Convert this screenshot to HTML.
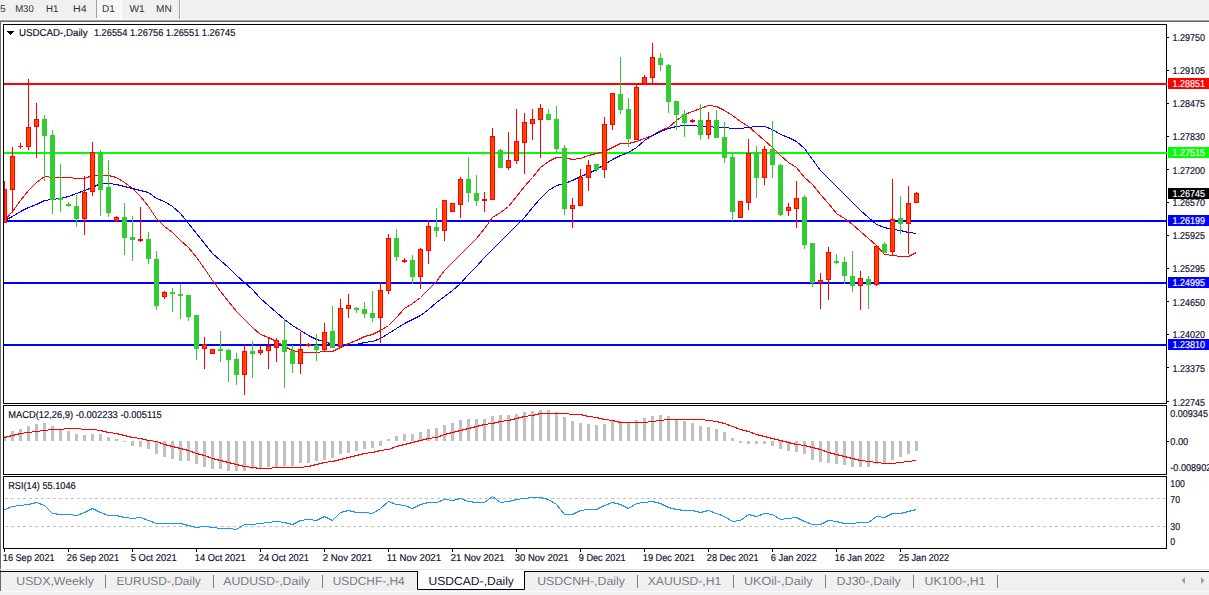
<!DOCTYPE html>
<html><head><meta charset="utf-8"><style>
html,body{margin:0;padding:0;background:#fff;width:1209px;height:595px;overflow:hidden}
svg{display:block;font-family:"Liberation Sans", sans-serif;text-rendering:geometricPrecision}
</style></head><body>
<svg width="1209" height="595" viewBox="0 0 1209 595">
<rect x="0" y="0" width="1209" height="20" fill="#f0f0f0"/>
<defs><pattern id="chk" x="0" y="0" width="2" height="2" patternUnits="userSpaceOnUse"><rect width="2" height="2" fill="#f0f0f0"/><rect width="1" height="1" fill="#ffffff"/><rect x="1" y="1" width="1" height="1" fill="#ffffff"/></pattern></defs>
<rect x="97" y="0" width="24" height="18" fill="url(#chk)" shape-rendering="crispEdges"/>
<rect x="121" y="0" width="1" height="19" fill="#ffffff"/>
<rect x="97" y="18" width="25" height="1" fill="#ffffff"/>
<rect x="96" y="0" width="1" height="18" fill="#a0a0a0"/>
<rect x="179" y="0" width="1" height="19" fill="#a0a0a0"/>
<rect x="180" y="0" width="1" height="19" fill="#ffffff"/>
<rect x="0" y="19" width="1209" height="1" fill="#f9f9f9"/>
<rect x="0" y="20" width="1209" height="1" fill="#a0a0a0"/>
<rect x="0" y="21" width="1209" height="1" fill="#696969"/>
<text x="0.09999999999999998" y="12.4" font-size="9.8" fill="#333333" textLength="5.6" lengthAdjust="spacingAndGlyphs">5</text>
<text x="15.200000000000001" y="12.4" font-size="9.8" fill="#333333" textLength="18.5" lengthAdjust="spacingAndGlyphs">M30</text>
<text x="46.1" y="12.4" font-size="9.8" fill="#333333" textLength="12.4" lengthAdjust="spacingAndGlyphs">H1</text>
<text x="73.10000000000001" y="12.4" font-size="9.8" fill="#333333" textLength="13.600000000000001" lengthAdjust="spacingAndGlyphs">H4</text>
<text x="102.0" y="12.4" font-size="9.8" fill="#333333" textLength="12.9" lengthAdjust="spacingAndGlyphs">D1</text>
<text x="129.4" y="12.4" font-size="9.8" fill="#333333" textLength="15.3" lengthAdjust="spacingAndGlyphs">W1</text>
<text x="156.0" y="12.4" font-size="9.8" fill="#333333" textLength="15.700000000000001" lengthAdjust="spacingAndGlyphs">MN</text>
<rect x="0" y="21" width="1" height="551" fill="#707070"/>
<rect x="3.5" y="24.5" width="1163" height="379" fill="none" stroke="#000" stroke-width="1"/>
<rect x="3.5" y="405.5" width="1163" height="69" fill="none" stroke="#000" stroke-width="1"/>
<rect x="3.5" y="476.5" width="1163" height="72" fill="none" stroke="#000" stroke-width="1"/>
<g shape-rendering="crispEdges">
<rect x="4" y="83" width="1163" height="2" fill="#ff0000"/>
<rect x="4" y="152" width="1163" height="2" fill="#00ff00"/>
<rect x="4" y="220" width="1163" height="2" fill="#0000ff"/>
<rect x="4" y="282" width="1163" height="2" fill="#0000ff"/>
<rect x="4" y="344" width="1163" height="2" fill="#0000ff"/>
</g>
<polyline points="4.5,220.5 12.5,211.5 20.5,200.5 28.5,190.5 36.5,182.5 44.5,176.5 52.5,177.5 60.5,177.5 68.5,177.5 76.5,178.5 84.5,178.5 92.5,175.5 100.5,175.5 108.5,175.5 116.5,177.5 124.5,182.5 132.5,188.5 140.5,196.5 148.5,206.5 156.5,218.5 164.5,226.5 172.5,232.5 180.5,240.5 188.5,247.5 196.5,257.5 204.5,268.5 212.5,280.5 220.5,291.5 228.5,301.5 236.5,311.5 244.5,319.5 252.5,327.5 260.5,334.5 268.5,337.5 276.5,341.5 284.5,346.5 292.5,350.5 300.5,352.5 308.5,352.5 316.5,352.5 324.5,351.5 332.5,351.5 340.5,347.5 348.5,343.5 356.5,340.5 364.5,336.5 372.5,334.5 380.5,330.5 388.5,325.5 396.5,317.5 404.5,308.5 412.5,303.5 420.5,297.5 428.5,289.5 436.5,281.5 444.5,270.5 452.5,262.5 460.5,254.5 468.5,246.5 476.5,238.5 484.5,228.5 492.5,217.5 500.5,212.5 508.5,206.5 516.5,196.5 524.5,186.5 532.5,177.5 540.5,167.5 548.5,161.5 556.5,157.5 564.5,157.5 572.5,159.5 580.5,158.5 588.5,155.5 596.5,153.5 604.5,151.5 612.5,147.5 620.5,143.5 628.5,143.5 636.5,141.5 644.5,138.5 652.5,135.5 660.5,130.5 668.5,127.5 676.5,120.5 684.5,114.5 692.5,111.5 700.5,108.5 708.5,105.5 716.5,106.5 724.5,110.5 732.5,115.5 740.5,121.5 748.5,126.5 756.5,133.5 764.5,140.5 772.5,147.5 780.5,155.5 788.5,162.5 796.5,167.5 804.5,177.5 812.5,184.5 820.5,194.5 828.5,203.5 836.5,213.5 844.5,218.5 852.5,224.5 860.5,231.5 868.5,238.5 876.5,245.5 884.5,254.5 892.5,255.5 900.5,256.5 908.5,256.5 916.5,252.5" fill="none" stroke="#ff0000" stroke-width="1" shape-rendering="crispEdges"/>
<polyline points="4.5,220.5 12.5,216.5 20.5,211.5 28.5,207.5 36.5,204.5 44.5,200.5 52.5,199.5 60.5,198.5 68.5,196.5 76.5,193.5 84.5,190.5 92.5,187.5 100.5,183.5 108.5,183.5 116.5,184.5 124.5,186.5 132.5,188.5 140.5,190.5 148.5,192.5 156.5,198.5 164.5,201.5 172.5,206.5 180.5,213.5 188.5,223.5 196.5,233.5 204.5,243.5 212.5,253.5 220.5,260.5 228.5,267.5 236.5,275.5 244.5,282.5 252.5,289.5 260.5,298.5 268.5,305.5 276.5,312.5 284.5,319.5 292.5,325.5 300.5,330.5 308.5,335.5 316.5,339.5 324.5,341.5 332.5,344.5 340.5,345.5 348.5,345.5 356.5,344.5 364.5,342.5 372.5,341.5 380.5,338.5 388.5,333.5 396.5,328.5 404.5,323.5 412.5,319.5 420.5,315.5 428.5,309.5 436.5,302.5 444.5,296.5 452.5,290.5 460.5,283.5 468.5,274.5 476.5,266.5 484.5,257.5 492.5,249.5 500.5,241.5 508.5,233.5 516.5,225.5 524.5,217.5 532.5,207.5 540.5,198.5 548.5,190.5 556.5,185.5 564.5,183.5 572.5,180.5 580.5,176.5 588.5,173.5 596.5,169.5 604.5,164.5 612.5,159.5 620.5,155.5 628.5,152.5 636.5,147.5 644.5,140.5 652.5,135.5 660.5,131.5 668.5,128.5 676.5,126.5 684.5,125.5 692.5,125.5 700.5,126.5 708.5,126.5 716.5,127.5 724.5,127.5 732.5,128.5 740.5,128.5 748.5,127.5 756.5,126.5 764.5,126.5 772.5,129.5 780.5,134.5 788.5,137.5 796.5,141.5 804.5,148.5 812.5,159.5 820.5,170.5 828.5,178.5 836.5,186.5 844.5,194.5 852.5,202.5 860.5,210.5 868.5,217.5 876.5,224.5 884.5,227.5 892.5,229.5 900.5,230.5 908.5,232.5 916.5,233.5" fill="none" stroke="#0000ff" stroke-width="1" shape-rendering="crispEdges"/>
<g shape-rendering="crispEdges">
<rect x="4" y="181" width="1" height="42" fill="#ff0000"/>
<rect x="4" y="189" width="3" height="34" fill="#ff0000"/>
<rect x="5" y="190" width="1" height="32" fill="#ff4500"/>
<rect x="12" y="147" width="1" height="66" fill="#ff0000"/>
<rect x="10" y="156" width="5" height="34" fill="#ff0000"/>
<rect x="11" y="157" width="3" height="32" fill="#ff4500"/>
<rect x="20" y="143" width="1" height="6" fill="#ff0000"/>
<rect x="18" y="146" width="5" height="1" fill="#ff0000"/>
<rect x="28" y="79" width="1" height="71" fill="#ff0000"/>
<rect x="26" y="127" width="5" height="20" fill="#ff0000"/>
<rect x="27" y="128" width="3" height="18" fill="#ff4500"/>
<rect x="36" y="103" width="1" height="55" fill="#ff0000"/>
<rect x="34" y="119" width="5" height="8" fill="#ff0000"/>
<rect x="35" y="120" width="3" height="6" fill="#ff4500"/>
<rect x="44" y="115" width="1" height="66" fill="#32cd32"/>
<rect x="42" y="119" width="5" height="17" fill="#32cd32"/>
<rect x="52" y="130" width="1" height="84" fill="#32cd32"/>
<rect x="50" y="135" width="5" height="65" fill="#32cd32"/>
<rect x="60" y="164" width="1" height="48" fill="#32cd32"/>
<rect x="58" y="198" width="5" height="2" fill="#32cd32"/>
<rect x="68" y="202" width="1" height="5" fill="#32cd32"/>
<rect x="66" y="204" width="5" height="2" fill="#32cd32"/>
<rect x="76" y="195" width="1" height="32" fill="#32cd32"/>
<rect x="74" y="206" width="5" height="13" fill="#32cd32"/>
<rect x="84" y="176" width="1" height="59" fill="#ff0000"/>
<rect x="82" y="192" width="5" height="27" fill="#ff0000"/>
<rect x="83" y="193" width="3" height="25" fill="#ff4500"/>
<rect x="92" y="142" width="1" height="54" fill="#ff0000"/>
<rect x="90" y="152" width="5" height="40" fill="#ff0000"/>
<rect x="91" y="153" width="3" height="38" fill="#ff4500"/>
<rect x="100" y="150" width="1" height="66" fill="#32cd32"/>
<rect x="98" y="152" width="5" height="38" fill="#32cd32"/>
<rect x="108" y="160" width="1" height="57" fill="#32cd32"/>
<rect x="106" y="187" width="5" height="26" fill="#32cd32"/>
<rect x="116" y="216" width="1" height="6" fill="#ff0000"/>
<rect x="114" y="217" width="5" height="4" fill="#ff0000"/>
<rect x="115" y="218" width="3" height="2" fill="#ff4500"/>
<rect x="124" y="203" width="1" height="52" fill="#32cd32"/>
<rect x="122" y="217" width="5" height="21" fill="#32cd32"/>
<rect x="132" y="216" width="1" height="45" fill="#32cd32"/>
<rect x="130" y="237" width="5" height="3" fill="#32cd32"/>
<rect x="140" y="207" width="1" height="35" fill="#ff0000"/>
<rect x="138" y="239" width="5" height="2" fill="#ff0000"/>
<rect x="148" y="232" width="1" height="32" fill="#32cd32"/>
<rect x="146" y="239" width="5" height="20" fill="#32cd32"/>
<rect x="156" y="251" width="1" height="59" fill="#32cd32"/>
<rect x="154" y="259" width="5" height="47" fill="#32cd32"/>
<rect x="164" y="291" width="1" height="8" fill="#ff0000"/>
<rect x="162" y="292" width="5" height="5" fill="#ff0000"/>
<rect x="163" y="293" width="3" height="3" fill="#ff4500"/>
<rect x="172" y="288" width="1" height="24" fill="#32cd32"/>
<rect x="170" y="292" width="5" height="2" fill="#32cd32"/>
<rect x="180" y="284" width="1" height="35" fill="#32cd32"/>
<rect x="178" y="294" width="5" height="2" fill="#32cd32"/>
<rect x="188" y="295" width="1" height="26" fill="#32cd32"/>
<rect x="186" y="295" width="5" height="22" fill="#32cd32"/>
<rect x="196" y="315" width="1" height="45" fill="#32cd32"/>
<rect x="194" y="315" width="5" height="34" fill="#32cd32"/>
<rect x="204" y="337" width="1" height="32" fill="#ff0000"/>
<rect x="202" y="344" width="5" height="5" fill="#ff0000"/>
<rect x="203" y="345" width="3" height="3" fill="#ff4500"/>
<rect x="212" y="349" width="1" height="5" fill="#ff0000"/>
<rect x="210" y="349" width="5" height="5" fill="#ff0000"/>
<rect x="211" y="350" width="3" height="3" fill="#ff4500"/>
<rect x="220" y="331" width="1" height="31" fill="#32cd32"/>
<rect x="218" y="349" width="5" height="2" fill="#32cd32"/>
<rect x="228" y="349" width="1" height="33" fill="#32cd32"/>
<rect x="226" y="350" width="5" height="10" fill="#32cd32"/>
<rect x="236" y="353" width="1" height="32" fill="#32cd32"/>
<rect x="234" y="359" width="5" height="16" fill="#32cd32"/>
<rect x="244" y="345" width="1" height="50" fill="#ff0000"/>
<rect x="242" y="351" width="5" height="24" fill="#ff0000"/>
<rect x="243" y="352" width="3" height="22" fill="#ff4500"/>
<rect x="252" y="341" width="1" height="37" fill="#32cd32"/>
<rect x="250" y="351" width="5" height="3" fill="#32cd32"/>
<rect x="260" y="346" width="1" height="9" fill="#ff0000"/>
<rect x="258" y="350" width="5" height="3" fill="#ff0000"/>
<rect x="259" y="351" width="3" height="1" fill="#ff4500"/>
<rect x="268" y="337" width="1" height="32" fill="#ff0000"/>
<rect x="266" y="346" width="5" height="5" fill="#ff0000"/>
<rect x="267" y="347" width="3" height="3" fill="#ff4500"/>
<rect x="276" y="338" width="1" height="24" fill="#ff0000"/>
<rect x="274" y="340" width="5" height="8" fill="#ff0000"/>
<rect x="275" y="341" width="3" height="6" fill="#ff4500"/>
<rect x="284" y="319" width="1" height="69" fill="#32cd32"/>
<rect x="282" y="340" width="5" height="12" fill="#32cd32"/>
<rect x="292" y="345" width="1" height="28" fill="#32cd32"/>
<rect x="290" y="351" width="5" height="13" fill="#32cd32"/>
<rect x="300" y="332" width="1" height="42" fill="#ff0000"/>
<rect x="298" y="349" width="5" height="15" fill="#ff0000"/>
<rect x="299" y="350" width="3" height="13" fill="#ff4500"/>
<rect x="308" y="343" width="1" height="4" fill="#ff0000"/>
<rect x="306" y="344" width="5" height="2" fill="#ff0000"/>
<rect x="316" y="334" width="1" height="27" fill="#32cd32"/>
<rect x="314" y="345" width="5" height="5" fill="#32cd32"/>
<rect x="324" y="323" width="1" height="28" fill="#ff0000"/>
<rect x="322" y="332" width="5" height="18" fill="#ff0000"/>
<rect x="323" y="333" width="3" height="16" fill="#ff4500"/>
<rect x="332" y="306" width="1" height="42" fill="#32cd32"/>
<rect x="330" y="331" width="5" height="17" fill="#32cd32"/>
<rect x="340" y="299" width="1" height="48" fill="#ff0000"/>
<rect x="338" y="308" width="5" height="39" fill="#ff0000"/>
<rect x="339" y="309" width="3" height="37" fill="#ff4500"/>
<rect x="348" y="294" width="1" height="24" fill="#ff0000"/>
<rect x="346" y="305" width="5" height="4" fill="#ff0000"/>
<rect x="347" y="306" width="3" height="2" fill="#ff4500"/>
<rect x="356" y="307" width="1" height="6" fill="#32cd32"/>
<rect x="354" y="308" width="5" height="2" fill="#32cd32"/>
<rect x="364" y="302" width="1" height="16" fill="#32cd32"/>
<rect x="362" y="309" width="5" height="5" fill="#32cd32"/>
<rect x="372" y="291" width="1" height="31" fill="#32cd32"/>
<rect x="370" y="313" width="5" height="5" fill="#32cd32"/>
<rect x="380" y="282" width="1" height="61" fill="#ff0000"/>
<rect x="378" y="290" width="5" height="28" fill="#ff0000"/>
<rect x="379" y="291" width="3" height="26" fill="#ff4500"/>
<rect x="388" y="234" width="1" height="60" fill="#ff0000"/>
<rect x="386" y="238" width="5" height="53" fill="#ff0000"/>
<rect x="387" y="239" width="3" height="51" fill="#ff4500"/>
<rect x="396" y="229" width="1" height="32" fill="#32cd32"/>
<rect x="394" y="238" width="5" height="19" fill="#32cd32"/>
<rect x="404" y="258" width="1" height="5" fill="#ff0000"/>
<rect x="402" y="260" width="5" height="2" fill="#ff0000"/>
<rect x="412" y="255" width="1" height="29" fill="#32cd32"/>
<rect x="410" y="260" width="5" height="17" fill="#32cd32"/>
<rect x="420" y="248" width="1" height="41" fill="#ff0000"/>
<rect x="418" y="249" width="5" height="28" fill="#ff0000"/>
<rect x="419" y="250" width="3" height="26" fill="#ff4500"/>
<rect x="428" y="220" width="1" height="44" fill="#ff0000"/>
<rect x="426" y="226" width="5" height="25" fill="#ff0000"/>
<rect x="427" y="227" width="3" height="23" fill="#ff4500"/>
<rect x="436" y="208" width="1" height="29" fill="#32cd32"/>
<rect x="434" y="227" width="5" height="4" fill="#32cd32"/>
<rect x="444" y="200" width="1" height="41" fill="#ff0000"/>
<rect x="442" y="200" width="5" height="31" fill="#ff0000"/>
<rect x="443" y="201" width="3" height="29" fill="#ff4500"/>
<rect x="452" y="203" width="1" height="9" fill="#ff0000"/>
<rect x="450" y="203" width="5" height="9" fill="#ff0000"/>
<rect x="451" y="204" width="3" height="7" fill="#ff4500"/>
<rect x="460" y="177" width="1" height="41" fill="#ff0000"/>
<rect x="458" y="179" width="5" height="26" fill="#ff0000"/>
<rect x="459" y="180" width="3" height="24" fill="#ff4500"/>
<rect x="468" y="157" width="1" height="45" fill="#32cd32"/>
<rect x="466" y="179" width="5" height="14" fill="#32cd32"/>
<rect x="476" y="175" width="1" height="31" fill="#32cd32"/>
<rect x="474" y="193" width="5" height="8" fill="#32cd32"/>
<rect x="484" y="192" width="1" height="20" fill="#ff0000"/>
<rect x="482" y="199" width="5" height="2" fill="#ff0000"/>
<rect x="492" y="128" width="1" height="72" fill="#ff0000"/>
<rect x="490" y="136" width="5" height="64" fill="#ff0000"/>
<rect x="491" y="137" width="3" height="62" fill="#ff4500"/>
<rect x="500" y="149" width="1" height="19" fill="#32cd32"/>
<rect x="498" y="150" width="5" height="18" fill="#32cd32"/>
<rect x="508" y="132" width="1" height="38" fill="#ff0000"/>
<rect x="506" y="160" width="5" height="8" fill="#ff0000"/>
<rect x="507" y="161" width="3" height="6" fill="#ff4500"/>
<rect x="516" y="109" width="1" height="55" fill="#ff0000"/>
<rect x="514" y="141" width="5" height="20" fill="#ff0000"/>
<rect x="515" y="142" width="3" height="18" fill="#ff4500"/>
<rect x="524" y="113" width="1" height="61" fill="#ff0000"/>
<rect x="522" y="122" width="5" height="21" fill="#ff0000"/>
<rect x="523" y="123" width="3" height="19" fill="#ff4500"/>
<rect x="532" y="109" width="1" height="31" fill="#ff0000"/>
<rect x="530" y="119" width="5" height="5" fill="#ff0000"/>
<rect x="531" y="120" width="3" height="3" fill="#ff4500"/>
<rect x="540" y="104" width="1" height="54" fill="#ff0000"/>
<rect x="538" y="108" width="5" height="12" fill="#ff0000"/>
<rect x="539" y="109" width="3" height="10" fill="#ff4500"/>
<rect x="548" y="109" width="1" height="11" fill="#32cd32"/>
<rect x="546" y="114" width="5" height="6" fill="#32cd32"/>
<rect x="556" y="106" width="1" height="46" fill="#32cd32"/>
<rect x="554" y="119" width="5" height="30" fill="#32cd32"/>
<rect x="564" y="145" width="1" height="70" fill="#32cd32"/>
<rect x="562" y="148" width="5" height="61" fill="#32cd32"/>
<rect x="572" y="198" width="1" height="30" fill="#ff0000"/>
<rect x="570" y="205" width="5" height="4" fill="#ff0000"/>
<rect x="571" y="206" width="3" height="2" fill="#ff4500"/>
<rect x="580" y="169" width="1" height="37" fill="#ff0000"/>
<rect x="578" y="177" width="5" height="29" fill="#ff0000"/>
<rect x="579" y="178" width="3" height="27" fill="#ff4500"/>
<rect x="588" y="160" width="1" height="31" fill="#ff0000"/>
<rect x="586" y="165" width="5" height="13" fill="#ff0000"/>
<rect x="587" y="166" width="3" height="11" fill="#ff4500"/>
<rect x="596" y="164" width="1" height="8" fill="#32cd32"/>
<rect x="594" y="164" width="5" height="6" fill="#32cd32"/>
<rect x="604" y="117" width="1" height="61" fill="#ff0000"/>
<rect x="602" y="124" width="5" height="46" fill="#ff0000"/>
<rect x="603" y="125" width="3" height="44" fill="#ff4500"/>
<rect x="612" y="93" width="1" height="37" fill="#ff0000"/>
<rect x="610" y="93" width="5" height="32" fill="#ff0000"/>
<rect x="611" y="94" width="3" height="30" fill="#ff4500"/>
<rect x="620" y="57" width="1" height="57" fill="#32cd32"/>
<rect x="618" y="94" width="5" height="16" fill="#32cd32"/>
<rect x="628" y="98" width="1" height="49" fill="#32cd32"/>
<rect x="626" y="109" width="5" height="30" fill="#32cd32"/>
<rect x="636" y="85" width="1" height="55" fill="#ff0000"/>
<rect x="634" y="87" width="5" height="53" fill="#ff0000"/>
<rect x="635" y="88" width="3" height="51" fill="#ff4500"/>
<rect x="644" y="75" width="1" height="9" fill="#ff0000"/>
<rect x="642" y="77" width="5" height="7" fill="#ff0000"/>
<rect x="643" y="78" width="3" height="5" fill="#ff4500"/>
<rect x="652" y="43" width="1" height="40" fill="#ff0000"/>
<rect x="650" y="57" width="5" height="21" fill="#ff0000"/>
<rect x="651" y="58" width="3" height="19" fill="#ff4500"/>
<rect x="660" y="53" width="1" height="18" fill="#32cd32"/>
<rect x="658" y="58" width="5" height="7" fill="#32cd32"/>
<rect x="668" y="64" width="1" height="49" fill="#32cd32"/>
<rect x="666" y="65" width="5" height="37" fill="#32cd32"/>
<rect x="676" y="101" width="1" height="29" fill="#32cd32"/>
<rect x="674" y="101" width="5" height="14" fill="#32cd32"/>
<rect x="684" y="110" width="1" height="27" fill="#32cd32"/>
<rect x="682" y="114" width="5" height="9" fill="#32cd32"/>
<rect x="692" y="119" width="1" height="4" fill="#ff0000"/>
<rect x="690" y="120" width="5" height="2" fill="#ff0000"/>
<rect x="700" y="104" width="1" height="36" fill="#32cd32"/>
<rect x="698" y="120" width="5" height="15" fill="#32cd32"/>
<rect x="708" y="112" width="1" height="27" fill="#ff0000"/>
<rect x="706" y="120" width="5" height="15" fill="#ff0000"/>
<rect x="707" y="121" width="3" height="13" fill="#ff4500"/>
<rect x="716" y="110" width="1" height="28" fill="#32cd32"/>
<rect x="714" y="120" width="5" height="18" fill="#32cd32"/>
<rect x="724" y="122" width="1" height="41" fill="#32cd32"/>
<rect x="722" y="137" width="5" height="21" fill="#32cd32"/>
<rect x="732" y="153" width="1" height="68" fill="#32cd32"/>
<rect x="730" y="157" width="5" height="55" fill="#32cd32"/>
<rect x="740" y="201" width="1" height="17" fill="#ff0000"/>
<rect x="738" y="201" width="5" height="17" fill="#ff0000"/>
<rect x="739" y="202" width="3" height="15" fill="#ff4500"/>
<rect x="748" y="139" width="1" height="71" fill="#ff0000"/>
<rect x="746" y="153" width="5" height="50" fill="#ff0000"/>
<rect x="747" y="154" width="3" height="48" fill="#ff4500"/>
<rect x="756" y="146" width="1" height="52" fill="#32cd32"/>
<rect x="754" y="152" width="5" height="26" fill="#32cd32"/>
<rect x="764" y="146" width="1" height="39" fill="#ff0000"/>
<rect x="762" y="149" width="5" height="29" fill="#ff0000"/>
<rect x="763" y="150" width="3" height="27" fill="#ff4500"/>
<rect x="772" y="121" width="1" height="57" fill="#32cd32"/>
<rect x="770" y="149" width="5" height="16" fill="#32cd32"/>
<rect x="780" y="164" width="1" height="52" fill="#32cd32"/>
<rect x="778" y="165" width="5" height="50" fill="#32cd32"/>
<rect x="788" y="203" width="1" height="13" fill="#ff0000"/>
<rect x="786" y="207" width="5" height="4" fill="#ff0000"/>
<rect x="787" y="208" width="3" height="2" fill="#ff4500"/>
<rect x="796" y="181" width="1" height="47" fill="#ff0000"/>
<rect x="794" y="198" width="5" height="11" fill="#ff0000"/>
<rect x="795" y="199" width="3" height="9" fill="#ff4500"/>
<rect x="804" y="195" width="1" height="54" fill="#32cd32"/>
<rect x="802" y="197" width="5" height="48" fill="#32cd32"/>
<rect x="812" y="243" width="1" height="44" fill="#32cd32"/>
<rect x="810" y="243" width="5" height="40" fill="#32cd32"/>
<rect x="820" y="273" width="1" height="36" fill="#ff0000"/>
<rect x="818" y="280" width="5" height="3" fill="#ff0000"/>
<rect x="819" y="281" width="3" height="1" fill="#ff4500"/>
<rect x="828" y="247" width="1" height="53" fill="#ff0000"/>
<rect x="826" y="252" width="5" height="28" fill="#ff0000"/>
<rect x="827" y="253" width="3" height="26" fill="#ff4500"/>
<rect x="836" y="254" width="1" height="10" fill="#32cd32"/>
<rect x="834" y="261" width="5" height="2" fill="#32cd32"/>
<rect x="844" y="257" width="1" height="27" fill="#32cd32"/>
<rect x="842" y="262" width="5" height="14" fill="#32cd32"/>
<rect x="852" y="251" width="1" height="41" fill="#32cd32"/>
<rect x="850" y="276" width="5" height="10" fill="#32cd32"/>
<rect x="860" y="271" width="1" height="39" fill="#ff0000"/>
<rect x="858" y="278" width="5" height="8" fill="#ff0000"/>
<rect x="859" y="279" width="3" height="6" fill="#ff4500"/>
<rect x="868" y="276" width="1" height="33" fill="#32cd32"/>
<rect x="866" y="279" width="5" height="6" fill="#32cd32"/>
<rect x="876" y="246" width="1" height="40" fill="#ff0000"/>
<rect x="874" y="246" width="5" height="39" fill="#ff0000"/>
<rect x="875" y="247" width="3" height="37" fill="#ff4500"/>
<rect x="884" y="242" width="1" height="11" fill="#32cd32"/>
<rect x="882" y="244" width="5" height="9" fill="#32cd32"/>
<rect x="892" y="179" width="1" height="76" fill="#ff0000"/>
<rect x="890" y="219" width="5" height="33" fill="#ff0000"/>
<rect x="891" y="220" width="3" height="31" fill="#ff4500"/>
<rect x="900" y="196" width="1" height="38" fill="#32cd32"/>
<rect x="898" y="218" width="5" height="6" fill="#32cd32"/>
<rect x="908" y="186" width="1" height="68" fill="#ff0000"/>
<rect x="906" y="203" width="5" height="21" fill="#ff0000"/>
<rect x="907" y="204" width="3" height="19" fill="#ff4500"/>
<rect x="916" y="192" width="1" height="11" fill="#ff0000"/>
<rect x="914" y="193" width="5" height="10" fill="#ff0000"/>
<rect x="915" y="194" width="3" height="8" fill="#ff4500"/>
</g>
<g shape-rendering="crispEdges">
<rect x="4" y="436" width="2" height="5" fill="#c0c0c0"/>
<rect x="11" y="431" width="3" height="10" fill="#c0c0c0"/>
<rect x="19" y="429" width="3" height="12" fill="#c0c0c0"/>
<rect x="27" y="426" width="3" height="15" fill="#c0c0c0"/>
<rect x="35" y="424" width="3" height="17" fill="#c0c0c0"/>
<rect x="43" y="423" width="3" height="18" fill="#c0c0c0"/>
<rect x="51" y="426" width="3" height="15" fill="#c0c0c0"/>
<rect x="59" y="429" width="3" height="12" fill="#c0c0c0"/>
<rect x="67" y="431" width="3" height="10" fill="#c0c0c0"/>
<rect x="75" y="434" width="3" height="7" fill="#c0c0c0"/>
<rect x="83" y="435" width="3" height="6" fill="#c0c0c0"/>
<rect x="91" y="434" width="3" height="7" fill="#c0c0c0"/>
<rect x="99" y="434" width="3" height="7" fill="#c0c0c0"/>
<rect x="107" y="437" width="3" height="4" fill="#c0c0c0"/>
<rect x="115" y="439" width="3" height="2" fill="#c0c0c0"/>
<rect x="123" y="441" width="3" height="1" fill="#c0c0c0"/>
<rect x="131" y="441" width="3" height="5" fill="#c0c0c0"/>
<rect x="139" y="441" width="3" height="6" fill="#c0c0c0"/>
<rect x="147" y="441" width="3" height="8" fill="#c0c0c0"/>
<rect x="155" y="441" width="3" height="13" fill="#c0c0c0"/>
<rect x="163" y="441" width="3" height="16" fill="#c0c0c0"/>
<rect x="171" y="441" width="3" height="18" fill="#c0c0c0"/>
<rect x="179" y="441" width="3" height="20" fill="#c0c0c0"/>
<rect x="187" y="441" width="3" height="20" fill="#c0c0c0"/>
<rect x="195" y="441" width="3" height="23" fill="#c0c0c0"/>
<rect x="203" y="441" width="3" height="26" fill="#c0c0c0"/>
<rect x="211" y="441" width="3" height="28" fill="#c0c0c0"/>
<rect x="219" y="441" width="3" height="28" fill="#c0c0c0"/>
<rect x="227" y="441" width="3" height="30" fill="#c0c0c0"/>
<rect x="235" y="441" width="3" height="30" fill="#c0c0c0"/>
<rect x="243" y="441" width="3" height="30" fill="#c0c0c0"/>
<rect x="251" y="441" width="3" height="28" fill="#c0c0c0"/>
<rect x="259" y="441" width="3" height="27" fill="#c0c0c0"/>
<rect x="267" y="441" width="3" height="26" fill="#c0c0c0"/>
<rect x="275" y="441" width="3" height="26" fill="#c0c0c0"/>
<rect x="283" y="441" width="3" height="25" fill="#c0c0c0"/>
<rect x="291" y="441" width="3" height="25" fill="#c0c0c0"/>
<rect x="299" y="441" width="3" height="22" fill="#c0c0c0"/>
<rect x="307" y="441" width="3" height="22" fill="#c0c0c0"/>
<rect x="315" y="441" width="3" height="20" fill="#c0c0c0"/>
<rect x="323" y="441" width="3" height="19" fill="#c0c0c0"/>
<rect x="331" y="441" width="3" height="17" fill="#c0c0c0"/>
<rect x="339" y="441" width="3" height="13" fill="#c0c0c0"/>
<rect x="347" y="441" width="3" height="12" fill="#c0c0c0"/>
<rect x="355" y="441" width="3" height="10" fill="#c0c0c0"/>
<rect x="363" y="441" width="3" height="8" fill="#c0c0c0"/>
<rect x="371" y="441" width="3" height="7" fill="#c0c0c0"/>
<rect x="379" y="441" width="3" height="5" fill="#c0c0c0"/>
<rect x="387" y="439" width="3" height="2" fill="#c0c0c0"/>
<rect x="395" y="436" width="3" height="5" fill="#c0c0c0"/>
<rect x="403" y="434" width="3" height="7" fill="#c0c0c0"/>
<rect x="411" y="434" width="3" height="7" fill="#c0c0c0"/>
<rect x="419" y="432" width="3" height="9" fill="#c0c0c0"/>
<rect x="427" y="429" width="3" height="12" fill="#c0c0c0"/>
<rect x="435" y="428" width="3" height="13" fill="#c0c0c0"/>
<rect x="443" y="425" width="3" height="16" fill="#c0c0c0"/>
<rect x="451" y="423" width="3" height="18" fill="#c0c0c0"/>
<rect x="459" y="420" width="3" height="21" fill="#c0c0c0"/>
<rect x="467" y="419" width="3" height="22" fill="#c0c0c0"/>
<rect x="475" y="419" width="3" height="22" fill="#c0c0c0"/>
<rect x="483" y="419" width="3" height="22" fill="#c0c0c0"/>
<rect x="491" y="416" width="3" height="25" fill="#c0c0c0"/>
<rect x="499" y="415" width="3" height="26" fill="#c0c0c0"/>
<rect x="507" y="415" width="3" height="26" fill="#c0c0c0"/>
<rect x="515" y="414" width="3" height="27" fill="#c0c0c0"/>
<rect x="523" y="412" width="3" height="29" fill="#c0c0c0"/>
<rect x="531" y="411" width="3" height="30" fill="#c0c0c0"/>
<rect x="539" y="410" width="3" height="31" fill="#c0c0c0"/>
<rect x="547" y="410" width="3" height="31" fill="#c0c0c0"/>
<rect x="555" y="412" width="3" height="29" fill="#c0c0c0"/>
<rect x="563" y="417" width="3" height="24" fill="#c0c0c0"/>
<rect x="571" y="421" width="3" height="20" fill="#c0c0c0"/>
<rect x="579" y="423" width="3" height="18" fill="#c0c0c0"/>
<rect x="587" y="424" width="3" height="17" fill="#c0c0c0"/>
<rect x="595" y="425" width="3" height="16" fill="#c0c0c0"/>
<rect x="603" y="424" width="3" height="17" fill="#c0c0c0"/>
<rect x="611" y="421" width="3" height="20" fill="#c0c0c0"/>
<rect x="619" y="421" width="3" height="20" fill="#c0c0c0"/>
<rect x="627" y="423" width="3" height="18" fill="#c0c0c0"/>
<rect x="635" y="420" width="3" height="21" fill="#c0c0c0"/>
<rect x="643" y="418" width="3" height="23" fill="#c0c0c0"/>
<rect x="651" y="416" width="3" height="25" fill="#c0c0c0"/>
<rect x="659" y="415" width="3" height="26" fill="#c0c0c0"/>
<rect x="667" y="416" width="3" height="25" fill="#c0c0c0"/>
<rect x="675" y="420" width="3" height="21" fill="#c0c0c0"/>
<rect x="683" y="421" width="3" height="20" fill="#c0c0c0"/>
<rect x="691" y="423" width="3" height="18" fill="#c0c0c0"/>
<rect x="699" y="426" width="3" height="15" fill="#c0c0c0"/>
<rect x="707" y="427" width="3" height="14" fill="#c0c0c0"/>
<rect x="715" y="429" width="3" height="12" fill="#c0c0c0"/>
<rect x="723" y="432" width="3" height="9" fill="#c0c0c0"/>
<rect x="731" y="438" width="3" height="3" fill="#c0c0c0"/>
<rect x="739" y="441" width="3" height="2" fill="#c0c0c0"/>
<rect x="747" y="441" width="3" height="3" fill="#c0c0c0"/>
<rect x="755" y="441" width="3" height="3" fill="#c0c0c0"/>
<rect x="763" y="441" width="3" height="3" fill="#c0c0c0"/>
<rect x="771" y="441" width="3" height="5" fill="#c0c0c0"/>
<rect x="779" y="441" width="3" height="8" fill="#c0c0c0"/>
<rect x="787" y="441" width="3" height="10" fill="#c0c0c0"/>
<rect x="795" y="441" width="3" height="11" fill="#c0c0c0"/>
<rect x="803" y="441" width="3" height="13" fill="#c0c0c0"/>
<rect x="811" y="441" width="3" height="19" fill="#c0c0c0"/>
<rect x="819" y="441" width="3" height="21" fill="#c0c0c0"/>
<rect x="827" y="441" width="3" height="22" fill="#c0c0c0"/>
<rect x="835" y="441" width="3" height="23" fill="#c0c0c0"/>
<rect x="843" y="441" width="3" height="24" fill="#c0c0c0"/>
<rect x="851" y="441" width="3" height="26" fill="#c0c0c0"/>
<rect x="859" y="441" width="3" height="26" fill="#c0c0c0"/>
<rect x="867" y="441" width="3" height="26" fill="#c0c0c0"/>
<rect x="875" y="441" width="3" height="23" fill="#c0c0c0"/>
<rect x="883" y="441" width="3" height="22" fill="#c0c0c0"/>
<rect x="891" y="441" width="3" height="19" fill="#c0c0c0"/>
<rect x="899" y="441" width="3" height="16" fill="#c0c0c0"/>
<rect x="907" y="441" width="3" height="13" fill="#c0c0c0"/>
<rect x="915" y="441" width="3" height="10" fill="#c0c0c0"/>
</g>
<polyline points="4.5,437.5 12.5,435.5 20.5,433.5 28.5,432.5 36.5,431.5 44.5,430.5 52.5,429.5 60.5,429.5 68.5,428.5 76.5,428.5 84.5,429.5 92.5,429.5 100.5,430.5 108.5,432.5 116.5,433.5 124.5,435.5 132.5,437.5 140.5,438.5 148.5,440.5 156.5,441.5 164.5,444.5 172.5,446.5 180.5,448.5 188.5,450.5 196.5,453.5 204.5,455.5 212.5,458.5 220.5,460.5 228.5,462.5 236.5,464.5 244.5,466.5 252.5,467.5 260.5,468.5 268.5,468.5 276.5,467.5 284.5,467.5 292.5,467.5 300.5,467.5 308.5,466.5 316.5,464.5 324.5,462.5 332.5,461.5 340.5,459.5 348.5,457.5 356.5,455.5 364.5,453.5 372.5,452.5 380.5,450.5 388.5,449.5 396.5,446.5 404.5,444.5 412.5,442.5 420.5,440.5 428.5,438.5 436.5,437.5 444.5,434.5 452.5,432.5 460.5,430.5 468.5,428.5 476.5,426.5 484.5,424.5 492.5,423.5 500.5,421.5 508.5,420.5 516.5,418.5 524.5,416.5 532.5,415.5 540.5,413.5 548.5,413.5 556.5,413.5 564.5,413.5 572.5,414.5 580.5,414.5 588.5,416.5 596.5,417.5 604.5,419.5 612.5,420.5 620.5,422.5 628.5,422.5 636.5,422.5 644.5,422.5 652.5,421.5 660.5,420.5 668.5,419.5 676.5,419.5 684.5,419.5 692.5,419.5 700.5,419.5 708.5,420.5 716.5,421.5 724.5,423.5 732.5,426.5 740.5,429.5 748.5,431.5 756.5,434.5 764.5,436.5 772.5,438.5 780.5,440.5 788.5,442.5 796.5,444.5 804.5,445.5 812.5,447.5 820.5,449.5 828.5,452.5 836.5,454.5 844.5,456.5 852.5,458.5 860.5,460.5 868.5,461.5 876.5,462.5 884.5,463.5 892.5,463.5 900.5,462.5 908.5,461.5 916.5,460.5" fill="none" stroke="#ff0000" stroke-width="1" shape-rendering="crispEdges"/>
<line x1="5" y1="498.5" x2="1166" y2="498.5" stroke="#c0c0c0" stroke-width="1" stroke-dasharray="3,3"/>
<line x1="5" y1="526.5" x2="1166" y2="526.5" stroke="#c0c0c0" stroke-width="1" stroke-dasharray="3,3"/>
<polyline points="4.5,509.5 12.5,506.5 20.5,505.5 28.5,504.5 36.5,502.5 44.5,505.5 52.5,513.5 60.5,514.5 68.5,514.5 76.5,515.5 84.5,512.5 92.5,508.5 100.5,512.5 108.5,515.5 116.5,515.5 124.5,517.5 132.5,518.5 140.5,517.5 148.5,520.5 156.5,523.5 164.5,523.5 172.5,523.5 180.5,523.5 188.5,525.5 196.5,527.5 204.5,526.5 212.5,527.5 220.5,528.5 228.5,528.5 236.5,529.5 244.5,524.5 252.5,524.5 260.5,523.5 268.5,522.5 276.5,521.5 284.5,522.5 292.5,524.5 300.5,520.5 308.5,519.5 316.5,520.5 324.5,516.5 332.5,520.5 340.5,512.5 348.5,510.5 356.5,512.5 364.5,512.5 372.5,513.5 380.5,508.5 388.5,501.5 396.5,504.5 404.5,505.5 412.5,508.5 420.5,504.5 428.5,502.5 436.5,502.5 444.5,499.5 452.5,500.5 460.5,498.5 468.5,501.5 476.5,502.5 484.5,502.5 492.5,496.5 500.5,502.5 508.5,501.5 516.5,499.5 524.5,498.5 532.5,497.5 540.5,497.5 548.5,499.5 556.5,504.5 564.5,514.5 572.5,514.5 580.5,510.5 588.5,509.5 596.5,509.5 604.5,505.5 612.5,502.5 620.5,504.5 628.5,508.5 636.5,503.5 644.5,502.5 652.5,501.5 660.5,503.5 668.5,507.5 676.5,509.5 684.5,510.5 692.5,510.5 700.5,512.5 708.5,510.5 716.5,513.5 724.5,516.5 732.5,521.5 740.5,520.5 748.5,514.5 756.5,516.5 764.5,513.5 772.5,514.5 780.5,519.5 788.5,518.5 796.5,517.5 804.5,521.5 812.5,524.5 820.5,524.5 828.5,520.5 836.5,521.5 844.5,523.5 852.5,523.5 860.5,522.5 868.5,522.5 876.5,516.5 884.5,517.5 892.5,513.5 900.5,513.5 908.5,511.5 916.5,509.5" fill="none" stroke="#1e90ff" stroke-width="1" shape-rendering="crispEdges"/>
<g shape-rendering="crispEdges" fill="#000"><rect x="7" y="31" width="7" height="1"/><rect x="8" y="32" width="5" height="1"/><rect x="9" y="33" width="3" height="1"/><rect x="10" y="34" width="1" height="1"/></g>
<text x="19" y="36" font-size="10.0" fill="#101030" stroke="#101030" stroke-width="0.18" textLength="68.6" lengthAdjust="spacingAndGlyphs">USDCAD-,Daily</text>
<text x="93.9" y="36" font-size="10.0" fill="#101030" stroke="#101030" stroke-width="0.18" textLength="141.4" lengthAdjust="spacingAndGlyphs">1.26554 1.26756 1.26551 1.26745</text>
<text x="8.2" y="417.5" font-size="10.0" fill="#101030" stroke="#101030" stroke-width="0.18" textLength="153.6" lengthAdjust="spacingAndGlyphs">MACD(12,26,9) -0.002233 -0.005115</text>
<text x="8.2" y="489" font-size="10.0" fill="#101030" stroke="#101030" stroke-width="0.18" textLength="67.5" lengthAdjust="spacingAndGlyphs">RSI(14) 55.1046</text>
<g shape-rendering="crispEdges">
<rect x="1167" y="37" width="2" height="1" fill="#000"/>
<rect x="1167" y="70" width="2" height="1" fill="#000"/>
<rect x="1167" y="103" width="2" height="1" fill="#000"/>
<rect x="1167" y="136" width="2" height="1" fill="#000"/>
<rect x="1167" y="169" width="2" height="1" fill="#000"/>
<rect x="1167" y="202" width="2" height="1" fill="#000"/>
<rect x="1167" y="235" width="2" height="1" fill="#000"/>
<rect x="1167" y="268" width="2" height="1" fill="#000"/>
<rect x="1167" y="301" width="2" height="1" fill="#000"/>
<rect x="1167" y="334" width="2" height="1" fill="#000"/>
<rect x="1167" y="367" width="2" height="1" fill="#000"/>
<rect x="1167" y="401" width="2" height="1" fill="#000"/>
</g>
<text x="1172.5" y="41.0" font-size="10.0" fill="#101030" stroke="#101030" stroke-width="0.18" textLength="32.4" lengthAdjust="spacingAndGlyphs">1.29750</text>
<text x="1172.5" y="74.0" font-size="10.0" fill="#101030" stroke="#101030" stroke-width="0.18" textLength="32.4" lengthAdjust="spacingAndGlyphs">1.29105</text>
<text x="1172.5" y="107.0" font-size="10.0" fill="#101030" stroke="#101030" stroke-width="0.18" textLength="32.4" lengthAdjust="spacingAndGlyphs">1.28475</text>
<text x="1172.5" y="140.0" font-size="10.0" fill="#101030" stroke="#101030" stroke-width="0.18" textLength="32.4" lengthAdjust="spacingAndGlyphs">1.27830</text>
<text x="1172.5" y="173.5" font-size="10.0" fill="#101030" stroke="#101030" stroke-width="0.18" textLength="32.4" lengthAdjust="spacingAndGlyphs">1.27200</text>
<text x="1172.5" y="206.0" font-size="10.0" fill="#101030" stroke="#101030" stroke-width="0.18" textLength="32.4" lengthAdjust="spacingAndGlyphs">1.26570</text>
<text x="1172.5" y="239.4" font-size="10.0" fill="#101030" stroke="#101030" stroke-width="0.18" textLength="32.4" lengthAdjust="spacingAndGlyphs">1.25925</text>
<text x="1172.5" y="272.4" font-size="10.0" fill="#101030" stroke="#101030" stroke-width="0.18" textLength="32.4" lengthAdjust="spacingAndGlyphs">1.25295</text>
<text x="1172.5" y="305.5" font-size="10.0" fill="#101030" stroke="#101030" stroke-width="0.18" textLength="32.4" lengthAdjust="spacingAndGlyphs">1.24650</text>
<text x="1172.5" y="338.4" font-size="10.0" fill="#101030" stroke="#101030" stroke-width="0.18" textLength="32.4" lengthAdjust="spacingAndGlyphs">1.24020</text>
<text x="1172.5" y="371.7" font-size="10.0" fill="#101030" stroke="#101030" stroke-width="0.18" textLength="32.4" lengthAdjust="spacingAndGlyphs">1.23375</text>
<text x="1172.5" y="405.9" font-size="10.0" fill="#101030" stroke="#101030" stroke-width="0.18" textLength="32.4" lengthAdjust="spacingAndGlyphs">1.22745</text>
<rect x="1168" y="78" width="41" height="11" fill="#ff0000" shape-rendering="crispEdges"/>
<text x="1172.5" y="87" font-size="10.0" fill="#ffffff" stroke="#ffffff" stroke-width="0.18" textLength="32.4" lengthAdjust="spacingAndGlyphs">1.28851</text>
<rect x="1168" y="147" width="41" height="11" fill="#00ff00" shape-rendering="crispEdges"/>
<text x="1172.5" y="156" font-size="10.0" fill="#ffffff" stroke="#ffffff" stroke-width="0.18" textLength="32.4" lengthAdjust="spacingAndGlyphs">1.27515</text>
<rect x="1168" y="188" width="41" height="11" fill="#000000" shape-rendering="crispEdges"/>
<text x="1172.5" y="197" font-size="10.0" fill="#ffffff" stroke="#ffffff" stroke-width="0.18" textLength="32.4" lengthAdjust="spacingAndGlyphs">1.26745</text>
<rect x="1168" y="215" width="41" height="11" fill="#0000ff" shape-rendering="crispEdges"/>
<text x="1172.5" y="224" font-size="10.0" fill="#ffffff" stroke="#ffffff" stroke-width="0.18" textLength="32.4" lengthAdjust="spacingAndGlyphs">1.26199</text>
<rect x="1168" y="277" width="41" height="11" fill="#0000ff" shape-rendering="crispEdges"/>
<text x="1172.5" y="286" font-size="10.0" fill="#ffffff" stroke="#ffffff" stroke-width="0.18" textLength="32.4" lengthAdjust="spacingAndGlyphs">1.24995</text>
<rect x="1168" y="339" width="41" height="11" fill="#0000ff" shape-rendering="crispEdges"/>
<text x="1172.5" y="348" font-size="10.0" fill="#ffffff" stroke="#ffffff" stroke-width="0.18" textLength="32.4" lengthAdjust="spacingAndGlyphs">1.23810</text>
<rect x="1167" y="441" width="2" height="1" fill="#000" shape-rendering="crispEdges"/>
<text x="1170.3" y="416.6" font-size="10.0" fill="#101030" stroke="#101030" stroke-width="0.18" textLength="37.6" lengthAdjust="spacingAndGlyphs">0.009345</text>
<text x="1170.3" y="445.1" font-size="10.0" fill="#101030" stroke="#101030" stroke-width="0.18" textLength="17.9" lengthAdjust="spacingAndGlyphs">0.00</text>
<text x="1170.3" y="471.40000000000003" font-size="10.0" fill="#101030" stroke="#101030" stroke-width="0.18" textLength="41" lengthAdjust="spacingAndGlyphs">-0.008902</text>
<text x="1170.3" y="487.20000000000005" font-size="10.0" fill="#101030" stroke="#101030" stroke-width="0.18" textLength="14.5" lengthAdjust="spacingAndGlyphs">100</text>
<text x="1170.3" y="502.5" font-size="10.0" fill="#101030" stroke="#101030" stroke-width="0.18" textLength="9.7" lengthAdjust="spacingAndGlyphs">70</text>
<text x="1170.3" y="529.9" font-size="10.0" fill="#101030" stroke="#101030" stroke-width="0.18" textLength="9.7" lengthAdjust="spacingAndGlyphs">30</text>
<text x="1170.3" y="545.2" font-size="10.0" fill="#101030" stroke="#101030" stroke-width="0.18" textLength="4.9" lengthAdjust="spacingAndGlyphs">0</text>
<g shape-rendering="crispEdges">
<rect x="4" y="549" width="1" height="3" fill="#000"/>
<rect x="68" y="549" width="1" height="3" fill="#000"/>
<rect x="132" y="549" width="1" height="3" fill="#000"/>
<rect x="196" y="549" width="1" height="3" fill="#000"/>
<rect x="260" y="549" width="1" height="3" fill="#000"/>
<rect x="324" y="549" width="1" height="3" fill="#000"/>
<rect x="388" y="549" width="1" height="3" fill="#000"/>
<rect x="452" y="549" width="1" height="3" fill="#000"/>
<rect x="516" y="549" width="1" height="3" fill="#000"/>
<rect x="580" y="549" width="1" height="3" fill="#000"/>
<rect x="644" y="549" width="1" height="3" fill="#000"/>
<rect x="708" y="549" width="1" height="3" fill="#000"/>
<rect x="772" y="549" width="1" height="3" fill="#000"/>
<rect x="836" y="549" width="1" height="3" fill="#000"/>
<rect x="900" y="549" width="1" height="3" fill="#000"/>
</g>
<text x="2.8" y="561.4" font-size="10.0" fill="#101030" stroke="#101030" stroke-width="0.18" textLength="51.8" lengthAdjust="spacingAndGlyphs">16 Sep 2021</text>
<text x="66.8" y="561.4" font-size="10.0" fill="#101030" stroke="#101030" stroke-width="0.18" textLength="52.3" lengthAdjust="spacingAndGlyphs">26 Sep 2021</text>
<text x="130.8" y="561.4" font-size="10.0" fill="#101030" stroke="#101030" stroke-width="0.18" textLength="45.8" lengthAdjust="spacingAndGlyphs">5 Oct 2021</text>
<text x="194.8" y="561.4" font-size="10.0" fill="#101030" stroke="#101030" stroke-width="0.18" textLength="50.8" lengthAdjust="spacingAndGlyphs">14 Oct 2021</text>
<text x="258.8" y="561.4" font-size="10.0" fill="#101030" stroke="#101030" stroke-width="0.18" textLength="50.099999999999994" lengthAdjust="spacingAndGlyphs">24 Oct 2021</text>
<text x="322.8" y="561.4" font-size="10.0" fill="#101030" stroke="#101030" stroke-width="0.18" textLength="49.3" lengthAdjust="spacingAndGlyphs">2 Nov 2021</text>
<text x="386.8" y="561.4" font-size="10.0" fill="#101030" stroke="#101030" stroke-width="0.18" textLength="54.3" lengthAdjust="spacingAndGlyphs">11 Nov 2021</text>
<text x="450.8" y="561.4" font-size="10.0" fill="#101030" stroke="#101030" stroke-width="0.18" textLength="53.599999999999994" lengthAdjust="spacingAndGlyphs">21 Nov 2021</text>
<text x="514.8" y="561.4" font-size="10.0" fill="#101030" stroke="#101030" stroke-width="0.18" textLength="53.8" lengthAdjust="spacingAndGlyphs">30 Nov 2021</text>
<text x="578.8" y="561.4" font-size="10.0" fill="#101030" stroke="#101030" stroke-width="0.18" textLength="46.8" lengthAdjust="spacingAndGlyphs">9 Dec 2021</text>
<text x="642.8" y="561.4" font-size="10.0" fill="#101030" stroke="#101030" stroke-width="0.18" textLength="52.0" lengthAdjust="spacingAndGlyphs">19 Dec 2021</text>
<text x="706.8" y="561.4" font-size="10.0" fill="#101030" stroke="#101030" stroke-width="0.18" textLength="51.8" lengthAdjust="spacingAndGlyphs">28 Dec 2021</text>
<text x="770.8" y="561.4" font-size="10.0" fill="#101030" stroke="#101030" stroke-width="0.18" textLength="45.8" lengthAdjust="spacingAndGlyphs">6 Jan 2022</text>
<text x="834.8" y="561.4" font-size="10.0" fill="#101030" stroke="#101030" stroke-width="0.18" textLength="49.8" lengthAdjust="spacingAndGlyphs">16 Jan 2022</text>
<text x="898.8" y="561.4" font-size="10.0" fill="#101030" stroke="#101030" stroke-width="0.18" textLength="50.3" lengthAdjust="spacingAndGlyphs">25 Jan 2022</text>
<rect x="0" y="569" width="1209" height="1" fill="#e3e3e3"/>
<rect x="0" y="571" width="1209" height="1" fill="#000"/>
<rect x="0" y="572" width="1209" height="19" fill="#f0f0f0"/>
<rect x="0" y="591" width="1209" height="1" fill="#fbfbfb"/>
<rect x="0" y="592" width="1209" height="3" fill="#f0f0f0"/>
<rect x="0" y="572" width="1" height="19" fill="#6a6a6a"/>
<rect x="417" y="571" width="108" height="19" fill="#ffffff"/>
<path d="M417.5 571 V589.5 H524.5 V571" fill="none" stroke="#000" stroke-width="1"/>
<text x="16.3" y="585" font-size="11.8" fill="#7a7a86" textLength="77.5" lengthAdjust="spacingAndGlyphs">USDX,Weekly</text>
<text x="116.4" y="585" font-size="11.8" fill="#7a7a86" textLength="84.4" lengthAdjust="spacingAndGlyphs">EURUSD-,Daily</text>
<text x="223.3" y="585" font-size="11.8" fill="#7a7a86" textLength="86.5" lengthAdjust="spacingAndGlyphs">AUDUSD-,Daily</text>
<text x="332.7" y="585" font-size="11.8" fill="#7a7a86" textLength="71.9" lengthAdjust="spacingAndGlyphs">USDCHF-,H4</text>
<text x="537.2" y="585" font-size="11.8" fill="#7a7a86" textLength="87.8" lengthAdjust="spacingAndGlyphs">USDCNH-,Daily</text>
<text x="647.7" y="585" font-size="11.8" fill="#7a7a86" textLength="73.6" lengthAdjust="spacingAndGlyphs">XAUUSD-,H1</text>
<text x="743.9" y="585" font-size="11.8" fill="#7a7a86" textLength="68.7" lengthAdjust="spacingAndGlyphs">UKOil-,Daily</text>
<text x="836.5" y="585" font-size="11.8" fill="#7a7a86" textLength="64.3" lengthAdjust="spacingAndGlyphs">DJ30-,Daily</text>
<text x="924.5" y="585" font-size="11.8" fill="#7a7a86" textLength="60.9" lengthAdjust="spacingAndGlyphs">UK100-,H1</text>
<text x="428.5" y="585" font-size="11.8" fill="#101030" textLength="85.4" lengthAdjust="spacingAndGlyphs">USDCAD-,Daily</text>
<rect x="105" y="575" width="1" height="13" fill="#808080"/>
<rect x="213" y="575" width="1" height="13" fill="#808080"/>
<rect x="322" y="575" width="1" height="13" fill="#808080"/>
<rect x="637" y="575" width="1" height="13" fill="#808080"/>
<rect x="733" y="575" width="1" height="13" fill="#808080"/>
<rect x="825" y="575" width="1" height="13" fill="#808080"/>
<rect x="913" y="575" width="1" height="13" fill="#808080"/>
<rect x="997" y="575" width="1" height="13" fill="#808080"/>
<path d="M1185 577 L1185 584 L1181.5 580.5 Z" fill="#a0a0a0"/>
<path d="M1201 577 L1201 584 L1204.5 580.5 Z" fill="#a0a0a0"/>
</svg>
</body></html>
